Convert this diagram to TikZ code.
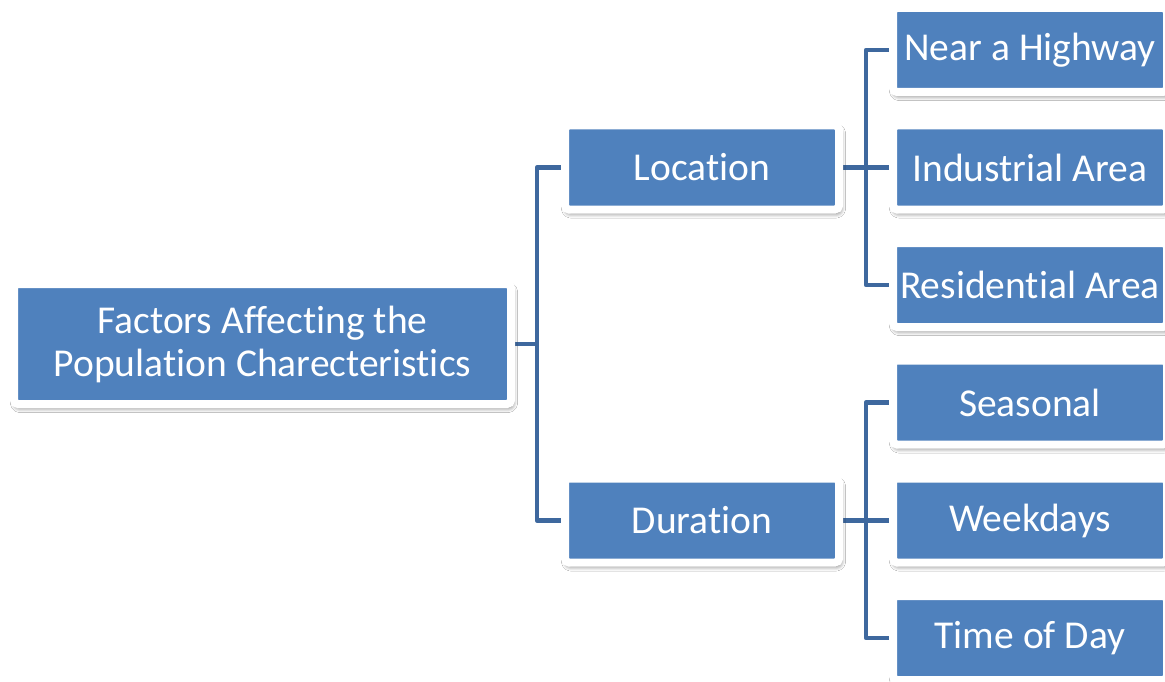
\documentclass[tikz,border=0pt]{standalone}
\usepackage{fontspec}
\setmainfont{Carlito}[RawFeature={-liga;-clig}]
\usetikzlibrary{shadows.blur}
\definecolor{boxblue}{RGB}{79,129,189}
\definecolor{linkblue}{RGB}{62,104,158}
\pgfdeclarelayer{background}
\pgfsetlayers{background,main}
\tikzset{
  card/.style={fill=boxblue, draw=white, line width=8pt, rounded corners=4pt,
    minimum width=274pt, minimum height=84pt, inner sep=0pt, align=center,
    text=white, font=\fontsize{39.5}{43}\selectfont,
    blur shadow={shadow xshift=1.5pt, shadow yshift=-3.5pt, shadow blur steps=8,
      shadow blur radius=5pt, shadow opacity=60}},
  link/.style={draw=linkblue, line width=4.5pt, line join=round}
}
\begin{document}
\begin{tikzpicture}[x=1pt, y=-1pt]
  \clip (0,0) rectangle (1165,682);
  % root and first level
  \node[card, minimum width=497pt, minimum height=120pt] (root) at (262.5,344)
    {Factors Affecting the\\Population Charecteristics};
  \node[card] (loc) at (702,167.5) {Location};
  \node[card] (dur) at (702,520.5) {Duration};
  % second level
  \node[card] (hwy) at (1030,50) {Near a Highway};
  \node[card] (ind) at (1030,167.5) {Industrial Area};
  \node[card] (res) at (1030,285) {Residential Area};
  \node[card] (sea) at (1030,402.5) {Seasonal};
  \node[card] (wkd) at (1030,520.5) {Weekdays};
  \node[card] (tod) at (1030,638) {Time of Day};
  % branch points
  \coordinate (j1) at (537,344);
  \coordinate (j2) at (866,167.5);
  \coordinate (j3) at (866,520.5);
  \begin{pgfonlayer}{background}
    \fill[white] (0,0) rectangle (1165,682);
    \draw[link] (root) -- (j1);
    \draw[link] (j1) |- (loc);
    \draw[link] (j1) |- (dur);
    \draw[link] (loc) -- (j2);
    \draw[link] (j2) |- (hwy);
    \draw[link] (j2) |- (ind);
    \draw[link] (j2) |- (res);
    \draw[link] (dur) -- (j3);
    \draw[link] (j3) |- (sea);
    \draw[link] (j3) |- (wkd);
    \draw[link] (j3) |- (tod);
  \end{pgfonlayer}
\end{tikzpicture}
\end{document}
